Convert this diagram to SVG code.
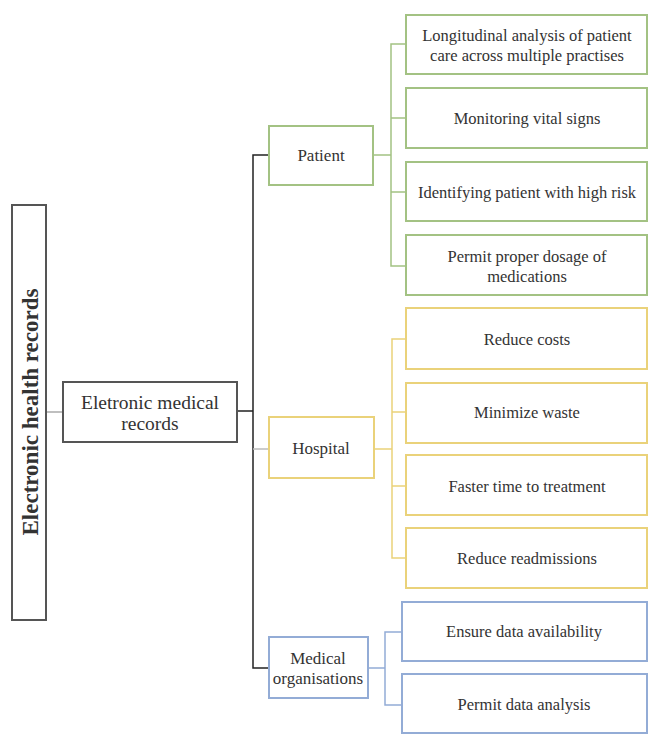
<svg xmlns="http://www.w3.org/2000/svg" width="649" height="734" viewBox="0 0 649 734">
<style>
text{font-family:'Liberation Serif','DejaVu Serif',serif;fill:#333;text-anchor:middle;dominant-baseline:central}
.box{fill:#fff;stroke-width:2}
.g{stroke:#a3c283}.y{stroke:#ead27a}.b{stroke:#93acd6}.k{stroke:#555}
.c{fill:none;stroke-width:1.5}
.t{font-size:16.5px}
</style>
<rect width="649" height="734" fill="#fff"/>
<g id="connectors">
<line class="c" x1="46" y1="412" x2="63" y2="412" stroke="#aaa"/>
<path class="c" d="M237 411H253M269 155H253V668H269" stroke="#222" stroke-width="2.5"/>
<line class="c" x1="253" y1="449" x2="269" y2="449" stroke="#bbb"/>
<path class="c g" d="M373 155H391M406 44H391V266H406M391 118H406M391 192H406"/>
<path class="c y" d="M374 449H392M406 339H392V558H406M392 412H406M392 486H406"/>
<path class="c b" d="M368 668H385M402 632H385V705H402"/>
</g>
<g font-family="Liberation Serif, serif">
<g id="ehr"><rect class="box k" x="12" y="205" width="34" height="415"/>
<text transform="translate(30 412) rotate(-90)" font-size="23" font-weight="bold">Electronic health records</text></g>
<g id="emr"><rect class="box k" x="63" y="382" width="174" height="60"/>
<text x="150" y="402" font-size="19.5">Eletronic medical</text><text x="150" y="423" font-size="19.5">records</text></g>
<g id="patient"><rect class="box g" x="269" y="126" width="104" height="59"/><text x="321" y="155" font-size="17">Patient</text></g>
<g id="hospital"><rect class="box y" x="269" y="417" width="105" height="61"/><text x="321" y="448" font-size="17">Hospital</text></g>
<g id="medorg"><rect class="box b" x="269" y="637" width="99" height="61"/><text x="318" y="658" font-size="17">Medical</text><text x="318" y="678" font-size="17">organisations</text></g>
<g id="p1"><rect class="box g" x="406" y="15" width="241" height="59"/><text class="t" x="527" y="35">Longitudinal analysis of patient</text><text class="t" x="527" y="55">care across multiple practises</text></g>
<g id="p2"><rect class="box g" x="406" y="88" width="241" height="60"/><text class="t" x="527" y="118">Monitoring vital signs</text></g>
<g id="p3"><rect class="box g" x="406" y="162" width="241" height="59"/><text class="t" x="527" y="192">Identifying patient with high risk</text></g>
<g id="p4"><rect class="box g" x="406" y="235" width="241" height="60"/><text class="t" x="527" y="256">Permit proper dosage of</text><text class="t" x="527" y="276">medications</text></g>
<g id="h1"><rect class="box y" x="406" y="308" width="241" height="61"/><text class="t" x="527" y="339">Reduce costs</text></g>
<g id="h2"><rect class="box y" x="406" y="383" width="241" height="60"/><text class="t" x="527" y="412">Minimize waste</text></g>
<g id="h3"><rect class="box y" x="406" y="455" width="241" height="60"/><text class="t" x="527" y="486">Faster time to treatment</text></g>
<g id="h4"><rect class="box y" x="406" y="528" width="241" height="60"/><text class="t" x="527" y="558">Reduce readmissions</text></g>
<g id="m1"><rect class="box b" x="402" y="602" width="245" height="59"/><text class="t" x="524" y="631">Ensure data availability</text></g>
<g id="m2"><rect class="box b" x="402" y="674" width="245" height="59"/><text class="t" x="524" y="704">Permit data analysis</text></g>
</g>
</svg>
